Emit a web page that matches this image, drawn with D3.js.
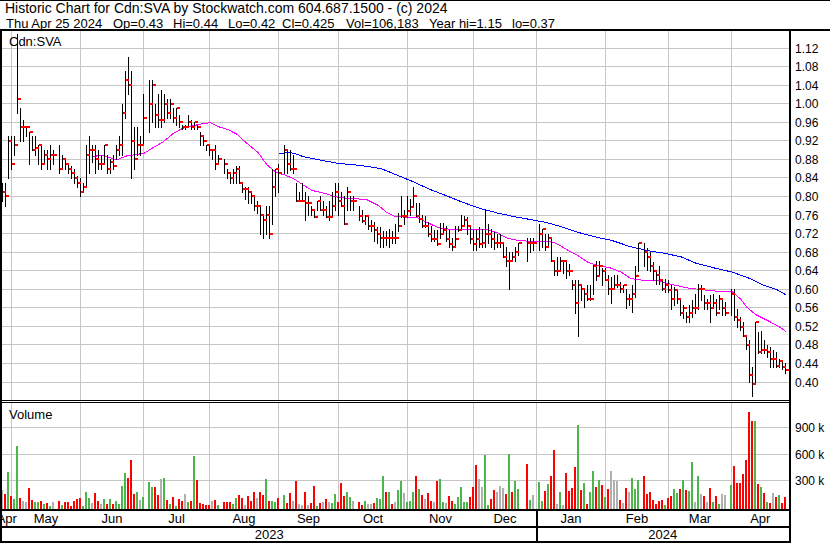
<!DOCTYPE html>
<html><head><meta charset="utf-8">
<script src="https://cdn.jsdelivr.net/npm/d3@7"></script>
<style>
html,body{margin:0;padding:0;background:#fff;}
svg{display:block;font-family:"Liberation Sans",Arial,sans-serif;}
</style></head><body>
<svg id="chart" width="830" height="543"></svg>
<script>
// ---------------- DATA ----------------
const firstSession = "2023-04-26";
const lastSession  = "2024-04-25";
const holidays = ["2023-05-22","2023-07-03","2023-08-07","2023-09-04","2023-10-09",
                  "2023-12-25","2023-12-26","2024-01-01","2024-02-19","2024-03-29"];

// one value per trading session (holidays excluded), month by month
const high = [
 .83,.83,.93,
 .93,.93,1.15,.99,.965,.95,.94,.93,.93,.91,.91,.90,.90,.91,.90, .91,.89,.88,.87,.865,.86,.845,
 .84,.83,.91,.93,.91,.91,.90,.89,.91,.89,.88,.89,.91,.93,1.00,1.07,1.10,1.07,.95,.95,.93,1.02,
 1.05,1.05,1.00,1.02,1.03,1.02,1.01,1.01,.99,.99,.975,.955,.955,.975,.965,.96,.955,.94,.93,.91,
 .91,.90,.91,.89, .88,.86,.85,.86,.865,.865,.83,.82,.82,.81,.80,.79,.78,.76,.78,.78,.86,.86,
 .87, .91,.90,.90,.89,.83,.81,.83,.81,.80,.78,.77,.79,.80,.79,.78,.79,.81,.83,.83,
 .81,.80,.82,.80,.80, .78,.77,.76,.755,.75,.745,.735,.735,.725,.725,.73,.725,.74,.765,.80,.77,
 .80,.795,.82,.785,.785,.76,.757,.745,.737,.728,.728,.742,.742,.737,.728,.71,.737,.737,.76,.757,.755,.737,
 .728,.728,.735,.73,.773,.74,.73,.723,.72,.72,.698,.69,.68,.68,.69,.70, .71,.71,.71,
 .74,.73,.72,.72,.71,.66,.67,.67,.66,.66,.655,.62,.62,.62,.61,.60,.61,.61,.652,.66,.66,.645,
 .645,.63,.627,.63,.63,.615,.61,.60,.59,.61,.65,.70, .70,.688,.68,.659,.641,.651,.62,.623,
 .62,.609,.605,.60,.576,.565,.551,.565,.576,.59,.612,.609,.587,.58,.587,.59,.58,.587,.58,.573,
 .60,.60,.558,.54,.53,.50,.49,.433,.53,.508,.51,.49,.479,.476,.47,.465,.45,.443,.44
];
const low = [
 .79,.78,.84,
 .86,.89,.98,.92,.92,.93,.87,.90,.89,.87,.86,.87,.86,.86,.87, .85,.86,.86,.85,.84,.83,.82,
 .80,.81,.82,.85,.875,.85,.86,.86,.87,.85,.85,.86,.88,.89,.89,.97,1.02,.84,.86,.89,.89,.91,
 .94,.96,.95,.95,.95,.96,.97,.97,.96,.955,.95,.945,.945,.95,.945,.945,.945,.91,.91,.90,
 .89,.88,.86,.87, .85,.84,.83,.83,.83,.83,.81,.795,.785,.785,.77,.765,.72,.71,.72,.71,.74,.80,
 .81, .85,.85,.856,.85,.79,.79,.79,.75,.76,.76,.755,.77,.77,.76,.755,.75,.76,.77,.76,
 .78,.74,.77,.77,.77, .75,.745,.74,.73,.725,.705,.70,.69,.69,.695,.69,.70,.70,.725,.755,.74,
 .755,.76,.78,.757,.745,.735,.735,.715,.705,.705,.695,.71,.72,.705,.69,.685,.69,.725,.728,.737,.718,.70,
 .685,.685,.69,.69,.69,.70,.69,.687,.69,.69,.669,.65,.60,.66,.66,.673, .66,.68,.685,
 .684,.69,.684,.69,.66,.63,.63,.64,.635,.625,.63,.60,.548,.50,.576,.562,.576,.576,.59,.62,.63,.61,
 .62,.59,.57,.60,.605,.595,.595,.56,.565,.55,.583,.64, .65,.641,.64,.62,.612,.612,.598,.595,
 .595,.558,.565,.57,.544,.537,.53,.53,.54,.548,.558,.576,.558,.558,.53,.562,.544,.558,.544,.544,
 .545,.533,.519,.512,.50,.472,.40,.37,.40,.462,.462,.462,.454,.433,.433,.433,.433,.427,.42
];
const close = [
 .81,.80,.92,
 .87,.91,1.01,.95,.95,.95,.94,.90,.905,.91,.87,.89,.88,.89,.89, .86,.88,.87,.86,.85,.84,.83,
 .81,.82,.89,.90,.90,.88,.87,.87,.91,.86,.875,.865,.90,.91,.98,1.05,1.04,.92,.88,.91,.91,.97,
 1.00,1.04,.975,.965,.965,1.00,.98,1.00,.97,.99,.96,.95,.95,.96,.95,.96,.95,.93,.92,.91,
 .90,.90,.87,.88, .87,.85,.84,.85,.86,.83,.815,.815,.81,.80,.78,.78,.76,.75,.76,.72,.82,.86,
 .85, .90,.87,.86,.86,.79,.79,.79,.785,.785,.77,.755,.79,.77,.77,.755,.755,.78,.81,.79,
 .78,.74,.81,.79,.79, .757,.748,.757,.737,.737,.728,.718,.71,.71,.71,.71,.71,.71,.737,.757,.757,
 .768,.778,.80,.757,.752,.737,.737,.718,.708,.708,.698,.718,.728,.708,.698,.69,.708,.728,.737,.75,.737,.708,
 .698,.708,.698,.70,.72,.72,.708,.70,.70,.70,.669,.66,.66,.669,.68,.70, .70,.70,.70,
 .72,.73,.69,.71,.66,.64,.64,.66,.66,.64,.64,.61,.57,.61,.60,.59,.578,.578,.65,.628,.65,.64,
 .62,.60,.60,.61,.61,.60,.61,.58,.58,.59,.628,.70, .68,.67,.65,.64,.63,.62,.60,.609,
 .598,.578,.598,.578,.549,.56,.54,.549,.56,.56,.60,.60,.571,.571,.56,.571,.549,.578,.56,.549,
 .59,.54,.533,.519,.50,.48,.416,.396,.53,.465,.47,.47,.465,.45,.45,.435,.445,.433,.425
];
// volume in thousands of shares
const volume = [
 190,145,390,
 120,87,695,95,65,57,210,76,50,50,65,30,42,8,50, 65,19,50,50,8,65,83,
 95,8,163,95,38,152,65,27,84,30,87,27,65,27,240,380,323,532,145,171,76,114,
 277,228,228,133,315,323,76,30,114,4,87,65,145,57,65,577,304,42,30,19,
 19,65,76,19, 50,57,57,27,95,133,95,19,122,65,163,95,163,133,311,65,65,57,
 95, 133,38,152,65,292,30,19,163,19,38,240,8,38,50,87,50,38,141,50,
 266,122,163,114,65, 50,19,65,30,30,38,95,87,350,171,163,30,50,190,292,152,
 50,65,165,350,200,133,87,160,65,53,292,315,57,38,125,65,30,114,228,46,46,110,
 228,475,315,228,590,19,87,190,171,235,209,145,596,167,292,201, 486,76,133,
 277,65,178,258,350,646,30,171,19,380,178,209,452,930,190,273,30,163,406,224,304,247,
 103,201,406,304,292,76,38,209,171,323,201,304, 353,145,163,76,30,65,76,19,
 95,122,197,160,197,300,190,178,513,57,353,141,125,57,209,46,125,30,145,133,
 247,463,270,270,372,532,1082,976,976,258,224,152,57,38,152,114,133,38,106
];
// volume bar colour: g = up, r = down, n = unchanged
const volumeTrend = (
 "nrg" +
 "rggrnnrrggrgrgn" + "rgrrrrr" +
 "rgggnrrngrgrggggrrrgng" +
 "ggrrngrgrgrrngrgrrrr" +
 "rnrg" + "rrrggrrnrrrnrrgrgg" +
 "r" + "grrnrnnrnrrgrnrnggr" +
 "rrggn" + "rrgnnrgggrgrnggn" +
 "gggrgrnrrnrggnrrgggggr" +
 "rrnnggrrnnnrgrgg" + "rgn" +
 "ggrgrrngnrrrrgrgrggrgr" +
 "grnnnrnrnggg" + "rrrrrrrg" +
 "rrggrgrggngnrnrgrgnn" +
 "grrrrrrrgrgrgrnrgrr"
).split("");

// moving averages: weekday number since first session, value
const fastMaDay = [30,33,38,41,47,50,53,57,60,63,66,69,72,75,78,81,85,88,91,94,97,100,103,107,111,116,121,125,128,131,138,141,145,149,155,161,165,168,171,176,182,185,188,191,195,198,202,206,209,212,218,223,228,233,239,243,246,248,251,255,258,261];
const fastMaValue = [.886,.889,.879,.887,.893,.905,.916,.937,.947,.952,.956,.959,.95,.944,.934,.916,.895,.868,.852,.846,.838,.825,.813,.807,.799,.795,.794,.781,.765,.756,.755,.745,.733,.729,.729,.729,.721,.71,.706,.703,.704,.697,.685,.675,.658,.651,.647,.637,.624,.62,.619,.61,.603,.599,.595,.595,.578,.561,.545,.532,.522,.509];
const slowMaDay = [92,95,97,100,106,112,119,126,131,137,142,148,153,159,165,170,176,181,187,192,198,203,209,215,220,226,231,237,243,249,253,258,261];
const slowMaValue = [.892,.895,.893,.886,.878,.871,.867,.86,.847,.831,.816,.801,.788,.774,.764,.757,.75,.744,.733,.722,.712,.705,.692,.683,.678,.67,.656,.646,.637,.623,.61,.599,.588];

const priceTicks = [0.40,0.44,0.48,0.52,0.56,0.60,0.64,0.68,0.72,0.76,0.80,0.84,0.88,0.92,0.96,1.00,1.04,1.08,1.12];
const volumeTicks = [300,600,900];
const volumeTickLabels = ["300 k","600 k","900 k"];
const headerTitle = "Historic Chart for Cdn:SVA by Stockwatch.com 604.687.1500 - (c) 2024";
const headerFields = ["Thu Apr 25 2024","Op=0.43","Hi=0.44","Lo=0.42","Cl=0.425","Vol=106,183","Year hi=1.15","lo=0.37"];
const symbolLabel = "Cdn:SVA";
const volumeLabel = "Volume";

// ---------------- LAYOUT ----------------
const W = 830, H = 543;
const plotLeft = 2, plotRight = 789;
const priceTop = 31, priceBottom = 400;
const volTop = 403, volBottom = 509;
const headerFieldX = [6,113,173,228,282,346,429,512];
const gridColor = "#c6c6c6";
const upColor = "#4cb54c", downColor = "#ff0000", flatColor = "#b0b0b0";

const svg = d3.select("#chart");
svg.append("rect").attr("width",W).attr("height",H).attr("fill","#fff");

const defs = svg.append("defs");
defs.append("clipPath").attr("id","clipPrice").append("rect")
  .attr("x",plotLeft).attr("y",priceTop).attr("width",plotRight-plotLeft).attr("height",priceBottom-priceTop);
defs.append("clipPath").attr("id","clipVol").append("rect")
  .attr("x",plotLeft).attr("y",volTop).attr("width",plotRight-plotLeft).attr("height",volBottom-volTop);
defs.append("clipPath").attr("id","clipAxis").append("rect")
  .attr("x",plotLeft).attr("y",volBottom).attr("width",plotRight-plotLeft).attr("height",H-volBottom);

const fmt = d3.utcFormat("%Y-%m-%d"), parse = d3.utcParse("%Y-%m-%d");
const allDays = d3.utcDay.range(parse(firstSession), d3.utcDay.offset(parse(lastSession),1))
  .filter(d => d.getUTCDay() % 6 !== 0);
const holidaySet = new Set(holidays);
const sessions = allDays.filter(d => !holidaySet.has(fmt(d)));

const x = d3.scalePoint().domain(allDays.map(fmt)).range([3, 786]);
const yP = d3.scaleLinear().domain([0.40, 1.12]).range([382, 48]);
const yV = d3.scaleLinear().domain([0, 1200]).range([506.5, 401.5]);

// month boundaries
function lastWeekdayOnOrBefore(d){ let t=d; while(t.getUTCDay()%6===0) t=d3.utcDay.offset(t,-1); return t; }
const monthStarts = d3.utcMonth.range(d3.utcMonth.ceil(parse(firstSession)), d3.utcDay.offset(parse(lastSession),1));
const monthLines = monthStarts.map(m => ({date:m, px: x(fmt(lastWeekdayOnOrBefore(m))) - 0.5}));

// ---------- gridlines ----------
const grid = svg.append("g").attr("shape-rendering","crispEdges").attr("stroke",gridColor).attr("stroke-width",1);
priceTicks.forEach(t => {
  const yy = Math.floor(yP(t)) + 0.5;
  grid.append("line").attr("x1",plotLeft).attr("x2",plotRight).attr("y1",yy).attr("y2",yy);
});
volumeTicks.forEach(t => {
  const yy = Math.floor(yV(t)) + 0.5;
  grid.append("line").attr("x1",plotLeft).attr("x2",plotRight).attr("y1",yy).attr("y2",yy);
});
monthLines.forEach(m => {
  grid.append("line").attr("x1",m.px).attr("x2",m.px).attr("y1",priceTop).attr("y2",priceBottom);
  grid.append("line").attr("x1",m.px).attr("x2",m.px).attr("y1",volTop).attr("y2",volBottom);
});

// ---------- moving averages ----------
const line = d3.line().x(d => x(fmt(allDays[d[0]]))).y(d => yP(d[1]));
const gMa = svg.append("g").attr("clip-path","url(#clipPrice)").attr("fill","none").attr("stroke-width",1).attr("shape-rendering","crispEdges");
gMa.append("path").attr("d", line(fastMaDay.map((k,i)=>[k,fastMaValue[i]]))).attr("stroke","#ff00ff");
gMa.append("path").attr("d", line(slowMaDay.map((k,i)=>[k,slowMaValue[i]]))).attr("stroke","#0000ff");

// ---------- price bars ----------
const gBars = svg.append("g").attr("clip-path","url(#clipPrice)").attr("shape-rendering","crispEdges");
sessions.forEach((d,i) => {
  const X = x(fmt(d));
  const yh = Math.round(yP(high[i])), yl = Math.round(yP(low[i]));
  gBars.append("rect").attr("x",X-1).attr("y",yh).attr("width",1).attr("height",Math.max(1,yl-yh+1)).attr("fill","#000");
});
sessions.forEach((d,i) => {
  const X = x(fmt(d));
  gBars.append("rect").attr("x",X).attr("y",Math.round(yP(close[i]))-1).attr("width",3).attr("height",2).attr("fill","#ff0000");
});

// ---------- volume bars ----------
const gVol = svg.append("g").attr("clip-path","url(#clipVol)").attr("shape-rendering","crispEdges");
sessions.forEach((d,i) => {
  const X = x(fmt(d));
  const top = Math.round(yV(volume[i]));
  const c = volumeTrend[i]==="g" ? upColor : volumeTrend[i]==="r" ? downColor : flatColor;
  gVol.append("rect").attr("x",X-2).attr("y",top).attr("width",2).attr("height",volBottom-top).attr("fill",c);
});

// ---------- frame ----------
const frame = svg.append("g").attr("fill","#000").attr("shape-rendering","crispEdges");
frame.append("rect").attr("x",0).attr("y",0).attr("width",W).attr("height",1);
frame.append("rect").attr("x",0).attr("y",29).attr("width",W).attr("height",2);
frame.append("rect").attr("x",0).attr("y",priceTop).attr("width",2).attr("height",H-priceTop);
frame.append("rect").attr("x",plotRight).attr("y",priceTop).attr("width",2).attr("height",H-priceTop);
frame.append("rect").attr("x",0).attr("y",400).attr("width",plotRight).attr("height",1);
frame.append("rect").attr("x",0).attr("y",402).attr("width",plotRight).attr("height",1);
frame.append("rect").attr("x",0).attr("y",volBottom).attr("width",plotRight).attr("height",2);
frame.append("rect").attr("x",0).attr("y",526).attr("width",plotRight).attr("height",2);
frame.append("rect").attr("x",0).attr("y",541).attr("width",plotRight+2).attr("height",2);
const yearLine = monthLines.find(m => m.date.getUTCMonth()===0);
frame.append("rect").attr("x",Math.round(yearLine.px)-1).attr("y",volBottom).attr("width",2).attr("height",H-volBottom);

// ---------- texts ----------
const txt = svg.append("g").attr("fill","#000");
txt.append("text").attr("x",5).attr("y",13).attr("font-size",14).text(headerTitle);
headerFields.forEach((f,i) => txt.append("text").attr("x",headerFieldX[i]).attr("y",28).attr("font-size",13).text(f));
txt.append("text").attr("x",9).attr("y",46).attr("font-size",13).text(symbolLabel);
txt.append("text").attr("x",9).attr("y",419).attr("font-size",13).text(volumeLabel);

priceTicks.forEach(t => txt.append("text").attr("x",795).attr("y",Math.floor(yP(t))+5).attr("font-size",12).text(d3.format(".2f")(t)));
volumeTicks.forEach((t,i) => txt.append("text").attr("x",795).attr("y",Math.floor(yV(t))+5).attr("font-size",12).text(volumeTickLabels[i]));

// month labels
const axisTxt = svg.append("g").attr("clip-path","url(#clipAxis)").attr("fill","#000");
const bounds = [plotLeft, ...monthLines.map(m=>m.px), plotRight];
const monthNames = [d3.utcMonth.floor(parse(firstSession)), ...monthStarts];
monthNames.forEach((m,i) => {
  axisTxt.append("text").attr("x",(bounds[i]+bounds[i+1])/2).attr("y",523).attr("text-anchor","middle")
    .attr("font-size",13).text(d3.utcFormat("%b")(m));
});
const yearBounds = [plotLeft, yearLine.px, plotRight];
[d3.utcFormat("%Y")(parse(firstSession)), d3.utcFormat("%Y")(parse(lastSession))].forEach((yr,i) => {
  axisTxt.append("text").attr("x",(yearBounds[i]+yearBounds[i+1])/2).attr("y",539).attr("text-anchor","middle")
    .attr("font-size",13).text(yr);
});
</script>
</body></html>
